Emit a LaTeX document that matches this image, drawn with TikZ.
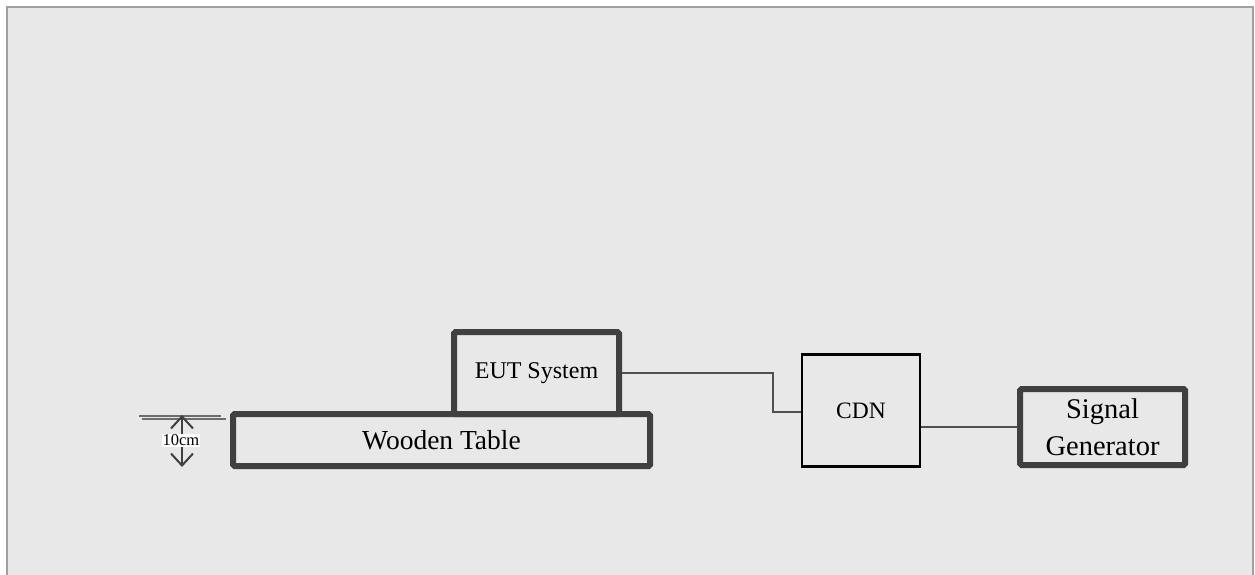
\documentclass[tikz,border=0pt]{standalone}
\usepackage{fontspec}
\setmainfont{Liberation Serif}
\usetikzlibrary{arrows.meta}
\definecolor{panel}{HTML}{E8E8E8}
\definecolor{frame}{HTML}{A0A0A0}
\definecolor{boxline}{HTML}{404040}
\definecolor{wire}{HTML}{505050}
\begin{document}
\begin{tikzpicture}[x=1pt,y=-1pt,
  heavybox/.style={draw=boxline,line width=6pt,rounded corners=1.5pt,fill=panel,inner sep=0pt,align=center},
  thinbox/.style={draw=black,line width=2.5pt,fill=panel,inner sep=0pt,align=center},
  wireline/.style={draw=wire,line width=2pt},
  gauge/.style={draw=boxline,line width=2pt,{Straight Barb[length=12pt,width=22pt]}-{Straight Barb[length=12pt,width=22pt]}},
  refline/.style={draw=gray!85!black,line width=1.5pt}]
  % page and background panel
  \useasboundingbox (0,0) rectangle (1255,575);
  \fill[white] (0,0) rectangle (1255,575);
  \fill[panel] (7,7) rectangle (1253,575);
  \draw[frame,line width=1.5pt] (7,575) -- (7,7) -- (1253,7) -- (1253,575);

  % equipment
  \node[heavybox,minimum width=417pt,minimum height=52pt,font=\fontsize{27.5}{31}\selectfont] (table) at (441.5,440) {Wooden Table};
  \node[heavybox,minimum width=165pt,minimum height=82pt,font=\fontsize{24}{28}\selectfont] (eut) at (536.5,373) {EUT System};
  \node[thinbox,minimum width=118pt,minimum height=112pt,font=\fontsize{23.5}{28}\selectfont] (cdn) at (861,410.5) {CDN};
  \node[heavybox,minimum width=165pt,minimum height=76pt,font=\fontsize{28.5}{37}\selectfont] (sg) at (1102.5,427) {Signal\\Generator};

  % cabling
  \coordinate (bend) at (773,412);
  \draw[wireline] (eut.east) -| (bend) -- (cdn.west |- bend);
  \draw[wireline] (sg.west -| cdn.east) -- (sg.west);

  % 10 cm height gauge
  \coordinate (g1a) at (139,416);
  \coordinate (g1b) at (221,416);
  \coordinate (g2a) at (142,419);
  \coordinate (g2b) at (226,419);
  \draw[refline] (g1a) -- (g1b);
  \draw[refline] (g2a) -- (g2b);
  \coordinate (gtop) at (182,415);
  \coordinate (gbot) at (182,467);
  \draw[gauge] (gtop) -- (gbot);
  \node[fill=white,inner sep=1pt,font=\fontsize{16.5}{18}\selectfont] (glabel) at (181,440.5) {10cm};
\end{tikzpicture}
\end{document}
